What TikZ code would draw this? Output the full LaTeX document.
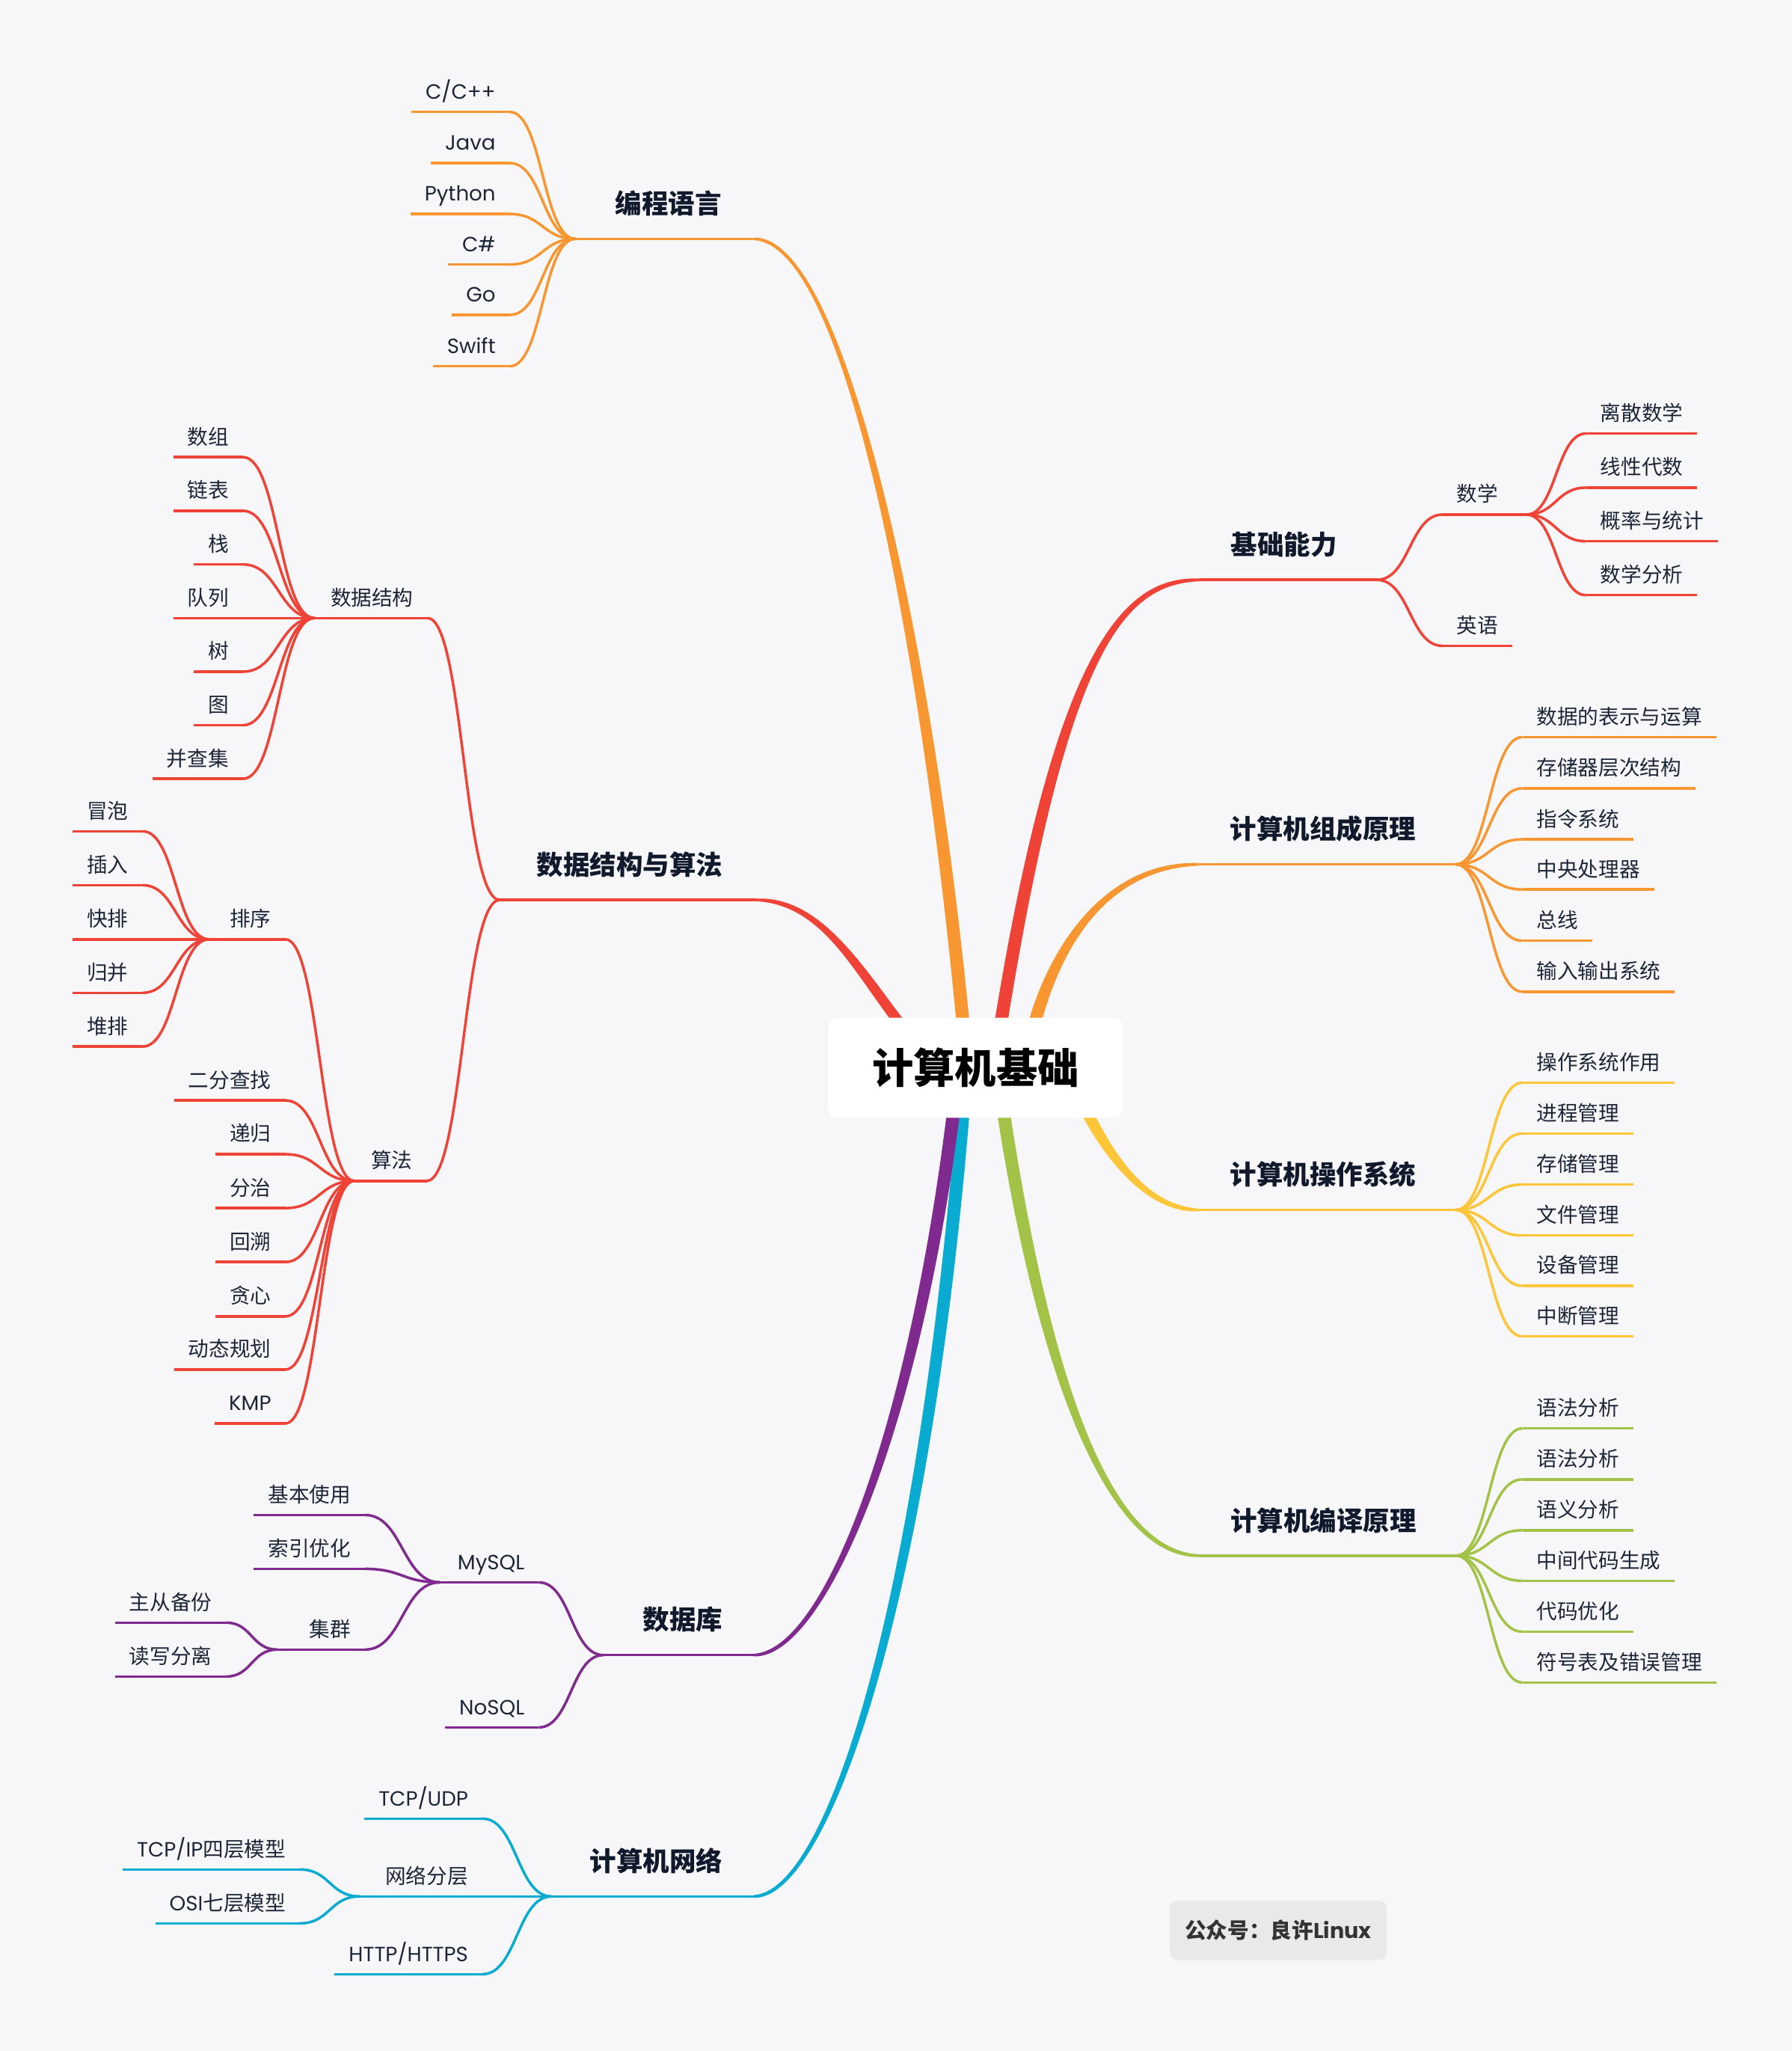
\documentclass[tikz,border=0pt]{standalone}
\usepackage{fontspec}
\setmainfont{Noto Sans CJK SC}
\newfontfamily\lat{Poppins}
\usetikzlibrary{calc}
\definecolor{bg}{HTML}{F7F7F9}
\definecolor{cOr}{HTML}{F89731}
\definecolor{cRd}{HTML}{EF4337}
\definecolor{cYe}{HTML}{FDC638}
\definecolor{cGr}{HTML}{A3C348}
\definecolor{cPu}{HTML}{80298F}
\definecolor{cCy}{HTML}{09ABD0}
\definecolor{txt}{HTML}{1C2638}
\definecolor{ttl}{HTML}{111A2C}
\definecolor{wm}{HTML}{E9E9EB}
\definecolor{wmtxt}{HTML}{333333}
\tikzset{
  ln/.style={draw=#1, line width=1pt},
  lfbase/.style={font=\fontsize{7.9}{9}\selectfont, text=txt, inner xsep=5.25pt, inner ysep=0pt, text height=6pt, text depth=4.7pt},
  lfL/.style={lfbase, anchor=south east},
  lfR/.style={lfbase, anchor=south west},
  topic/.style={font=\fontsize{10.15}{12}\selectfont\bfseries, text=ttl, inner sep=0pt},
}
% connector from parent convergence point to child attach point
\newcommand\conn[3]{\path ($(#2)!0.5!(#3)$) coordinate (mid);
  \draw[ln=#1] (#2) .. controls (mid |- #2) and (mid |- #3) .. (#3);}
% leaves: color, name, x, y, text, parent
\newcommand\lleaf[6]{\coordinate (#2-a) at (#3,#4);
  \node[lfL] (#2) at (#2-a) {#5};
  \draw[ln=#1] (#2.south west) -- (#2.south east);
  \conn{#1}{#6}{#2-a}}
\newcommand\rleaf[6]{\coordinate (#2-a) at (#3,#4);
  \node[lfR] (#2) at (#2-a) {#5};
  \draw[ln=#1] (#2.south west) -- (#2.south east);
  \conn{#1}{#6}{#2-a}}
% middle nodes: as leaves, plus convergence point (extra length)
\newcommand\lmid[7]{\lleaf{#1}{#2}{#3}{#4}{#5}{#6}
  \coordinate (#2-c) at ($(#2.south west)+(-#7,0)$);
  \draw[ln=#1] (#2.south west) -- (#2-c);}
\newcommand\rmid[7]{\rleaf{#1}{#2}{#3}{#4}{#5}{#6}
  \coordinate (#2-c) at ($(#2.south east)+(#7,0)$);
  \draw[ln=#1] (#2.south east) -- (#2-c);}
% tapered main branch: color, start, c1 offset, c2 offset, end, side
\newcommand\mbranch[6]{%
  \fill[#1] ($(#2)+(-5,0)$) .. controls ($(#2)+(#3)+(-5,0)$) and ($(#5)+(#4)+(0,{-3.5*(#6)})$) .. ($(#5)+(0,{-(#6)})$)
    -- ($(#5)+(0,{#6})$) .. controls ($(#5)+(#4)+(0,{3.5*(#6)})$) and ($(#2)+(#3)+(5,0)$) .. ($(#2)+(5,0)$) -- cycle;}
\begin{document}
\begin{tikzpicture}[x={(0.5pt,0)}, y={(0,-0.5pt)}]
\fill[bg] (0,0) rectangle (1370,1568);
\useasboundingbox (0,0) rectangle (1370,1568);

% ---------- topic anchors ----------
\coordinate (pl-e) at (576,182.6);
\coordinate (ds-e) at (578,688);
\coordinate (db-e) at (576.2,1265.3);
\coordinate (nw-e) at (576.2,1449.8);
\coordinate (jc-e) at (917.7,443.3);
\coordinate (zy-e) at (917,660.8);
\coordinate (os-e) at (917,925);
\coordinate (by-e) at (917.4,1189.3);

% ---------- main branches ----------
\coordinate (s1) at (737,790);
\coordinate (s2) at (694,790);
\coordinate (s3) at (764,790);
\coordinate (s4) at (789,790);
\coordinate (s5) at (827,842);
\coordinate (s6) at (766,842);
\coordinate (s7) at (730,842);
\coordinate (s8) at (737,842);
\mbranch{cOr}{s1}{-25,-270}{74,0}{pl-e}{-1}
\mbranch{cRd}{s2}{-36,-45}{52,0}{ds-e}{-1}
\mbranch{cRd}{s3}{48,-300}{-57,0}{jc-e}{1}
\mbranch{cOr}{s4}{16,-65}{-72,0}{zy-e}{1}
\mbranch{cYe}{s5}{18,38}{-42,0}{os-e}{-1}
\mbranch{cGr}{s6}{33,220}{-67,0}{by-e}{-1}
\mbranch{cCy}{s8}{-32,400}{54,0}{nw-e}{1}
\mbranch{cPu}{s7}{-30,250}{54,0}{db-e}{1}

% ---------- 编程语言 ----------
\node[topic, anchor=base east] (pl) at ($(pl-e)+(-24,-19.3)$) {编程语言};
\coordinate (pl-c) at ($(pl.west |- pl-e)+(-30,0)$);
\draw[ln=cOr] (pl-e) -- (pl-c);
\lleaf{cOr}{pcpp}{389.8}{85.6}{{\lat C/C++}}{pl-c}
\lleaf{cOr}{pjava}{389.8}{124.7}{{\lat Java}}{pl-c}
\lleaf{cOr}{ppy}{389.8}{163.6}{{\lat Python}}{pl-c}
\lleaf{cOr}{pcs}{389.8}{202.2}{{\lat C\#}}{pl-c}
\lleaf{cOr}{pgo}{389.8}{240.7}{{\lat Go}}{pl-c}
\lleaf{cOr}{psw}{389.8}{280}{{\lat Swift}}{pl-c}

% ---------- 数据结构与算法 ----------
\node[topic, anchor=base east] (ds) at ($(ds-e)+(-25,-19.3)$) {数据结构与算法};
\coordinate (ds-c) at ($(ds.west |- ds-e)+(-28,0)$);
\draw[ln=cRd] (ds-e) -- (ds-c);
\lmid{cRd}{sj}{326.9}{472.5}{数据结构}{ds-c}{1.5}
\lleaf{cRd}{sz}{185.8}{349.5}{数组}{sj-c}
\lleaf{cRd}{lb}{185.8}{390.5}{链表}{sj-c}
\lleaf{cRd}{zh}{185.8}{431.5}{栈}{sj-c}
\lleaf{cRd}{dl}{185.8}{472.5}{队列}{sj-c}
\lleaf{cRd}{sh}{185.8}{513.5}{树}{sj-c}
\lleaf{cRd}{tu}{185.8}{554.4}{图}{sj-c}
\lleaf{cRd}{bcj}{185.8}{595.4}{并查集}{sj-c}
\lmid{cRd}{sf}{326.3}{902.8}{算法}{ds-c}{2}
\lmid{cRd}{px}{218.2}{718.1}{排序}{sf-c}{4.8}
\lleaf{cRd}{mp}{109}{635.5}{冒泡}{px-c}
\lleaf{cRd}{cr}{109}{676.7}{插入}{px-c}
\lleaf{cRd}{kp}{109}{718.1}{快排}{px-c}
\lleaf{cRd}{gb}{109}{759}{归并}{px-c}
\lleaf{cRd}{dp}{109}{800.1}{堆排}{px-c}
\lleaf{cRd}{ef}{218.2}{841.3}{二分查找}{sf-c}
\lleaf{cRd}{dg}{218.2}{882.4}{递归}{sf-c}
\lleaf{cRd}{fz}{218.2}{923.6}{分治}{sf-c}
\lleaf{cRd}{hs}{218.2}{964.8}{回溯}{sf-c}
\lleaf{cRd}{tx}{218.2}{1006.3}{贪心}{sf-c}
\lleaf{cRd}{dt}{218.2}{1047}{动态规划}{sf-c}
\lleaf{cRd}{kmp}{218.2}{1088.2}{{\lat KMP}}{sf-c}

% ---------- 数据库 ----------
\node[topic, anchor=base east] (db) at ($(db-e)+(-23.2,-19.3)$) {数据库};
\coordinate (db-c) at ($(db.west |- db-e)+(-30,0)$);
\draw[ln=cPu] (db-e) -- (db-c);
\lmid{cPu}{my}{411.9}{1209.7}{{\lat MySQL}}{db-c}{2.7}
\lleaf{cPu}{jbsy}{279.1}{1158.2}{基本使用}{my-c}
\lleaf{cPu}{syyh}{279.1}{1199.4}{索引优化}{my-c}
\lmid{cPu}{jq}{279.1}{1261.1}{集群}{my-c}{13.8}
\lleaf{cPu}{zcbf}{173}{1240.5}{主从备份}{jq-c}
\lleaf{cPu}{dxfl}{173}{1281.7}{读写分离}{jq-c}
\lleaf{cPu}{nosql}{411.9}{1320.6}{{\lat NoSQL}}{db-c}

% ---------- 计算机网络 ----------
\node[topic, anchor=base east] (nw) at ($(nw-e)+(-23.2,-19.3)$) {计算机网络};
\coordinate (nw-c) at ($(nw.west |- nw-e)+(-29,0)$);
\draw[ln=cCy] (nw-e) -- (nw-c);
\lleaf{cCy}{tcpudp}{368.8}{1390.3}{{\lat TCP/UDP}}{nw-c}
\lmid{cCy}{fc}{368.8}{1449.8}{网络分层}{nw-c}{8.8}
\lleaf{cCy}{tcpip}{229.3}{1429.2}{{\lat TCP/IP}四层模型}{fc-c}
\lleaf{cCy}{osi}{229.3}{1470.4}{{\lat OSI}七层模型}{fc-c}
\lleaf{cCy}{http}{368.8}{1509.3}{{\lat HTTP/HTTPS}}{nw-c}

% ---------- 基础能力 ----------
\node[topic, anchor=base west] (jc) at ($(jc-e)+(23,-19.3)$) {基础能力};
\coordinate (jc-c) at ($(jc.east |- jc-e)+(30,0)$);
\draw[ln=cRd] (jc-e) -- (jc-c);
\rmid{cRd}{sx}{1103}{393.4}{数学}{jc-c}{10.5}
\rleaf{cRd}{lssx}{1212.7}{331.4}{离散数学}{sx-c}
\rleaf{cRd}{xxds}{1212.7}{372.8}{线性代数}{sx-c}
\rleaf{cRd}{gltj}{1212.7}{413.8}{概率与统计}{sx-c}
\rleaf{cRd}{sxfx}{1212.7}{455}{数学分析}{sx-c}
\rleaf{cRd}{yy}{1103}{493.8}{英语}{jc-c}

% ---------- 计算机组成原理 ----------
\node[topic, anchor=base west] (zy) at ($(zy-e)+(23,-19.3)$) {计算机组成原理};
\coordinate (zy-c) at ($(zy.east |- zy-e)+(30,0)$);
\draw[ln=cOr] (zy-e) -- (zy-c);
\rleaf{cOr}{zy1}{1164}{563.5}{数据的表示与运算}{zy-c}
\rleaf{cOr}{zy2}{1164}{602.7}{存储器层次结构}{zy-c}
\rleaf{cOr}{zy3}{1164}{641.7}{指令系统}{zy-c}
\rleaf{cOr}{zy4}{1164}{680}{中央处理器}{zy-c}
\rleaf{cOr}{zy5}{1164}{719.2}{总线}{zy-c}
\rleaf{cOr}{zy6}{1164}{758.2}{输入输出系统}{zy-c}

% ---------- 计算机操作系统 ----------
\node[topic, anchor=base west] (os) at ($(os-e)+(23,-19.3)$) {计算机操作系统};
\coordinate (os-c) at ($(os.east |- os-e)+(30,0)$);
\draw[ln=cYe] (os-e) -- (os-c);
\rleaf{cYe}{os1}{1164}{827.7}{操作系统作用}{os-c}
\rleaf{cYe}{os2}{1164}{866.6}{进程管理}{os-c}
\rleaf{cYe}{os3}{1164}{905.6}{存储管理}{os-c}
\rleaf{cYe}{os4}{1164}{944.5}{文件管理}{os-c}
\rleaf{cYe}{os5}{1164}{983}{设备管理}{os-c}
\rleaf{cYe}{os6}{1164}{1021.7}{中断管理}{os-c}

% ---------- 计算机编译原理 ----------
\node[topic, anchor=base west] (by) at ($(by-e)+(23,-19.3)$) {计算机编译原理};
\coordinate (by-c) at ($(by.east |- by-e)+(30,0)$);
\draw[ln=cGr] (by-e) -- (by-c);
\rleaf{cGr}{by1}{1164}{1092}{语法分析}{by-c}
\rleaf{cGr}{by2}{1164}{1131}{语法分析}{by-c}
\rleaf{cGr}{by3}{1164}{1169.9}{语义分析}{by-c}
\rleaf{cGr}{by4}{1164}{1208.5}{中间代码生成}{by-c}
\rleaf{cGr}{by5}{1164}{1247.4}{代码优化}{by-c}
\rleaf{cGr}{by6}{1164}{1286.3}{符号表及错误管理}{by-c}

% ---------- root ----------
\node[fill=white, rounded corners=3.8pt, minimum width=112.65pt, minimum height=38.3pt, inner sep=0pt,
      font=\fontsize{15.8}{18}\selectfont\bfseries, text=black] (root) at (746,816.3) {计算机基础};

% ---------- watermark ----------
\node[fill=wm, rounded corners=2.85pt, minimum width=82.85pt, minimum height=22.7pt, inner sep=0pt,
      font=\fontsize{8.2}{10}\selectfont\bfseries, text=wmtxt] (wmk) at (977.2,1475.7) {公众号：良许{\lat Linux}};
\end{tikzpicture}
\end{document}
